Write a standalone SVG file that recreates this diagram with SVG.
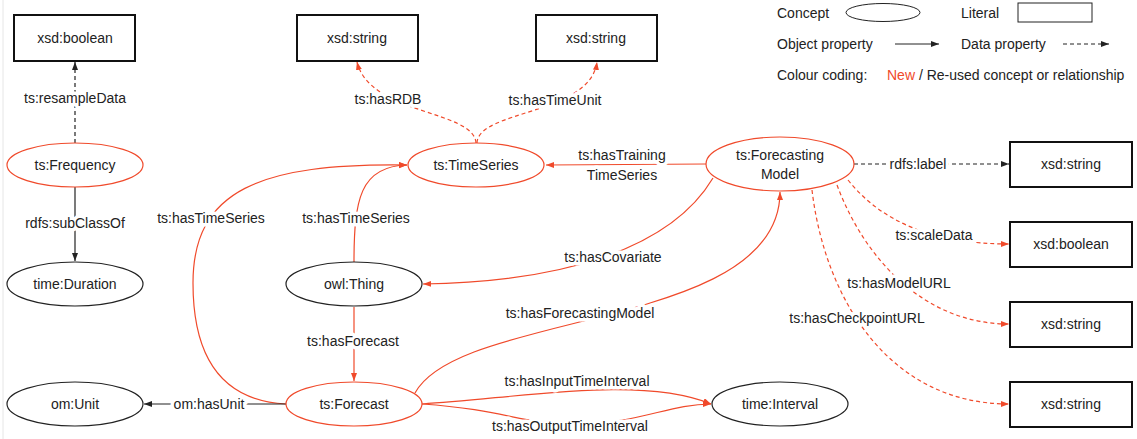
<svg xmlns="http://www.w3.org/2000/svg" width="1137" height="439" viewBox="0 0 1137 439">
<style>
text{font-family:"Liberation Sans",Arial,sans-serif;font-size:14px;fill:#222;text-anchor:middle}
.lbl{stroke:#fff;stroke-width:7px;paint-order:stroke;stroke-linejoin:round}
.cb{fill:#fff;stroke:#222;stroke-width:1.2}
.cr{fill:#fff;stroke:#f04a2b;stroke-width:1.2}
.lit{fill:#fff;stroke:#111;stroke-width:2}
.eb{fill:none;stroke:#222;stroke-width:1.2}
.er{fill:none;stroke:#f04a2b;stroke-width:1.2}
.d{stroke-dasharray:4 3}
</style>
<defs>
<marker id="ab" markerUnits="userSpaceOnUse" markerWidth="9" markerHeight="7" refX="8" refY="3" orient="auto"><path d="M0,0 L8,3 L0,6 z" fill="#222"/></marker>
<marker id="ar" markerUnits="userSpaceOnUse" markerWidth="9" markerHeight="7" refX="8" refY="3" orient="auto"><path d="M0,0 L8,3 L0,6 z" fill="#f04a2b"/></marker>
</defs>
<rect width="1137" height="439" fill="#fff"/>
<line x1="3" y1="0" x2="3" y2="439" stroke="#e6e6e6" stroke-width="1"/>

<g id="connectors">
<path class="eb d" d="M75,143 L75,62" marker-end="url(#ab)"/>
<path class="eb" d="M75,187 L75,261" marker-end="url(#ab)"/>
<path class="er d" d="M476,143 C474,110 370,115 357,62" marker-end="url(#ar)"/>
<path class="er d" d="M477,143 C478,110 590,115 597,62" marker-end="url(#ar)"/>
<path class="er" d="M706,164 L546,165" marker-end="url(#ar)"/>
<path class="eb d" d="M854,164 L1009,164" marker-end="url(#ab)"/>
<path class="er d" d="M848,180 C880,220 930,244 1009,244" marker-end="url(#ar)"/>
<path class="er d" d="M837,185 C865,260 925,324 1009,324" marker-end="url(#ar)"/>
<path class="er d" d="M812,190 C825,300 890,404 1009,404" marker-end="url(#ar)"/>
<path class="er" d="M713,178 C670,250 560,282 423,284" marker-end="url(#ar)"/>
<path class="er" d="M415,393 C460,310 780,330 780,192" marker-end="url(#ar)"/>
<path class="er" d="M422,404 C520,398 640,375 711,404" marker-end="url(#ar)"/>
<path class="er" d="M422,404 C510,410 520,425 580,424 C640,423 670,404 711,404" marker-end="url(#ar)"/>
<path class="er" d="M354,307 L354,381" marker-end="url(#ar)"/>
<path class="er" d="M354,262 C354,200 360,166 407,165" marker-end="url(#ar)"/>
<path class="er" d="M286,404 C210,400 193,340 193,283 C193,190 260,163 407,165" marker-end="url(#ar)"/>
<path class="eb" d="M286,404 L144,404" marker-end="url(#ab)"/>

<text class="lbl" x="75" y="103">ts:resampleData</text>
<text class="lbl" x="75" y="228">rdfs:subClassOf</text>
<text class="lbl" x="388" y="104">ts:hasRDB</text>
<text class="lbl" x="555" y="105">ts:hasTimeUnit</text>
<text class="lbl" x="622" y="160">ts:hasTraining</text>
<text class="lbl" x="622" y="180">TimeSeries</text>
<text class="lbl" x="918" y="169">rdfs:label</text>
<text class="lbl" x="934" y="240">ts:scaleData</text>
<text class="lbl" x="899" y="288">ts:hasModelURL</text>
<text class="lbl" x="857" y="323">ts:hasCheckpointURL</text>
<text class="lbl" x="613" y="262">ts:hasCovariate</text>
<text class="lbl" x="580" y="318">ts:hasForecastingModel</text>
<text class="lbl" x="577" y="386">ts:hasInputTimeInterval</text>
<text class="lbl" x="570" y="431">ts:hasOutputTimeInterval</text>
<text class="lbl" x="353" y="346">ts:hasForecast</text>
<text class="lbl" x="356" y="223">ts:hasTimeSeries</text>
<text class="lbl" x="211" y="223">ts:hasTimeSeries</text>
<text class="lbl" x="209" y="409">om:hasUnit</text>
</g>

<g id="n-bool1"><rect class="lit" x="14" y="15" width="121" height="46"/><text x="75" y="43">xsd:boolean</text></g>
<g id="n-str1"><rect class="lit" x="297" y="15" width="121" height="46"/><text x="357" y="43">xsd:string</text></g>
<g id="n-str2"><rect class="lit" x="536" y="15" width="121" height="46"/><text x="596" y="43">xsd:string</text></g>
<g id="n-str3"><rect class="lit" x="1010" y="142" width="122" height="45"/><text x="1071" y="169">xsd:string</text></g>
<g id="n-bool2"><rect class="lit" x="1010" y="222" width="122" height="45"/><text x="1071" y="249">xsd:boolean</text></g>
<g id="n-str4"><rect class="lit" x="1010" y="302" width="122" height="45"/><text x="1071" y="329">xsd:string</text></g>
<g id="n-str5"><rect class="lit" x="1010" y="382" width="122" height="45"/><text x="1071" y="409">xsd:string</text></g>

<g id="n-frequency"><ellipse class="cr" cx="75" cy="165" rx="68" ry="22"/><text x="75" y="170">ts:Frequency</text></g>
<g id="n-duration"><ellipse class="cb" cx="75" cy="284" rx="68" ry="22"/><text x="75" y="289">time:Duration</text></g>
<g id="n-unit"><ellipse class="cb" cx="75" cy="404" rx="68" ry="22"/><text x="75" y="409">om:Unit</text></g>
<g id="n-thing"><ellipse class="cb" cx="354" cy="284" rx="68" ry="22"/><text x="354" y="289">owl:Thing</text></g>
<g id="n-forecast"><ellipse class="cr" cx="354" cy="404" rx="68" ry="22"/><text x="354" y="409">ts:Forecast</text></g>
<g id="n-timeseries"><ellipse class="cr" cx="476" cy="165" rx="68" ry="22"/><text x="476" y="170">ts:TimeSeries</text></g>
<g id="n-fmodel"><ellipse class="cr" cx="780" cy="164" rx="74" ry="27"/><text x="780" y="160">ts:Forecasting</text><text x="780" y="179">Model</text></g>
<g id="n-interval"><ellipse class="cb" cx="780" cy="404" rx="68" ry="22"/><text x="780" y="409">time:Interval</text></g>

<g id="legend">
<text x="777" y="18" style="text-anchor:start">Concept</text>
<ellipse cx="883" cy="12.5" rx="37" ry="9" fill="#fff" stroke="#222" stroke-width="1"/>
<text x="961" y="18" style="text-anchor:start">Literal</text>
<rect x="1018" y="3" width="74" height="19" fill="#fff" stroke="#222" stroke-width="1"/>
<text x="777" y="49" style="text-anchor:start">Object property</text>
<path d="M895,44 L939,44" stroke="#222" stroke-width="1" marker-end="url(#ab)"/>
<text x="961" y="49" style="text-anchor:start">Data property</text>
<path d="M1063,44 L1109,44" stroke="#222" stroke-width="1" stroke-dasharray="4 3" marker-end="url(#ab)"/>
<text x="777" y="80" style="text-anchor:start">Colour coding:</text>
<text x="887" y="80" style="text-anchor:start"><tspan fill="#f04a2b">New</tspan> / Re-used concept or relationship</text>
</g>
</svg>
